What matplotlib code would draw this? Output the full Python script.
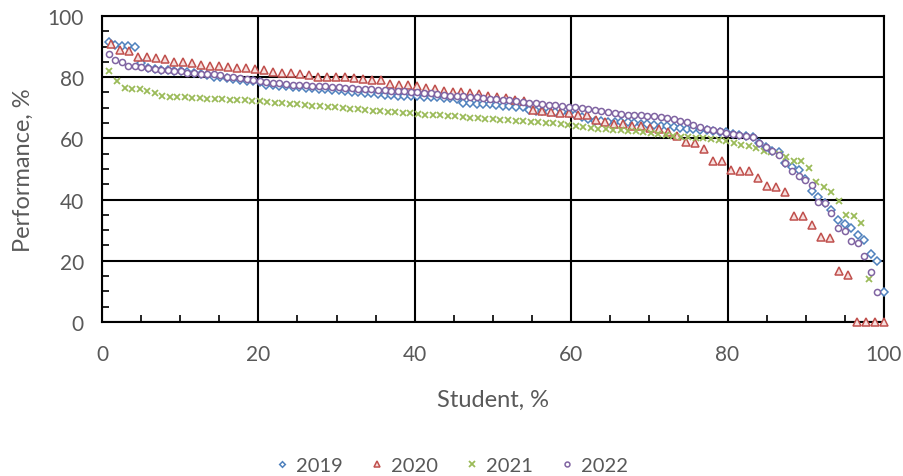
import numpy as np
import matplotlib
matplotlib.use("Agg")
import matplotlib.pyplot as plt
from matplotlib.ticker import MultipleLocator

plt.rcParams['font.family'] = ['Lato', 'DejaVu Sans']

# scores sorted high -> low, x is the student's rank as % of the cohort
years = ['2019', '2020', '2021', '2022']
cohort = {'2019': 119, '2020': 87, '2021': 104, '2022': 119}

perf_2019 = [91.4, 90.5, 90.3, 90.1, 89.8, 84.6, 82.9, 82.7, 82.5, 82.4,
             82.1, 81.9, 81.6, 81.3, 81.0, 80.8, 80.0, 79.9, 79.6, 79.4,
             79.0, 78.8, 78.6, 78.4, 77.5, 77.3, 77.2, 77.0, 76.9, 76.8,
             76.6, 76.5, 76.3, 76.1, 75.9, 75.7, 75.5, 75.3, 75.1, 74.9,
             74.7, 74.5, 74.3, 74.1, 74.0, 73.9, 73.8, 73.7, 73.6, 73.5,
             73.4, 73.3, 73.2, 73.0, 71.5, 71.4, 71.3, 71.2, 71.1, 71.0,
             70.7, 70.5, 70.3, 70.1, 69.2, 69.0, 68.8, 68.7, 68.6, 68.5,
             68.3, 67.6, 66.9, 66.3, 65.8, 65.6, 65.5, 65.4, 65.3, 65.2,
             65.0, 64.8, 64.6, 64.4, 64.2, 64.0, 63.6, 63.4, 63.2, 63.0,
             62.8, 62.6, 62.4, 62.2, 62.0, 61.5, 61.2, 60.8, 60.5, 58.6,
             57.3, 55.8, 55.4, 52.0, 50.5, 49.6, 46.7, 42.7, 41.0, 38.9,
             36.7, 33.4, 32.0, 30.6, 28.4, 26.9, 22.2, 20.0, 9.9]

perf_2020 = [90.8, 88.9, 88.7, 86.7, 86.5, 86.2, 85.9, 85.0, 84.9, 84.5,
             84.0, 83.8, 83.6, 83.2, 83.0, 83.0, 82.7, 82.4, 81.6, 81.4,
             81.3, 81.0, 80.7, 80.0, 80.0, 80.0, 80.0, 79.6, 79.4, 79.2,
             79.1, 77.8, 77.6, 77.4, 77.0, 76.4, 76.0, 75.6, 75.3, 75.2,
             74.8, 74.4, 74.0, 73.4, 73.1, 72.7, 72.1, 69.4, 69.0, 68.6,
             68.4, 68.3, 67.6, 67.5, 66.0, 65.2, 64.7, 64.7, 64.2, 64.2,
             63.3, 63.1, 62.0, 60.8, 58.9, 58.5, 56.5, 52.7, 52.5, 49.7,
             49.5, 49.5, 46.9, 44.3, 44.2, 42.6, 34.5, 34.5, 31.8, 27.7,
             27.5, 16.6, 15.4, 0, 0, 0, 0]

perf_2021 = [82.1, 78.9, 76.4, 76.1, 76.1, 75.6, 74.8, 73.7, 73.4, 73.4,
             73.4, 73.1, 73.1, 72.9, 72.9, 72.9, 72.7, 72.7, 72.4, 72.3,
             72.1, 71.9, 71.7, 71.5, 71.3, 71.1, 70.9, 70.7, 70.5, 70.3,
             70.1, 69.9, 69.7, 69.5, 69.3, 69.1, 68.9, 68.7, 68.6, 68.4,
             68.2, 68.0, 67.8, 67.7, 67.6, 67.4, 67.2, 67.0, 66.8, 66.6,
             66.4, 66.2, 66.0, 65.9, 65.8, 65.6, 65.5, 65.3, 65.1, 64.9,
             64.7, 64.4, 64.1, 63.8, 63.5, 63.2, 63.0, 62.8, 62.6, 62.5,
             62.3, 62.0, 61.7, 61.4, 61.0, 60.8, 60.6, 60.4, 60.2, 60.0,
             59.7, 59.4, 59.2, 58.5, 57.8, 57.4, 56.7, 56.0, 55.4, 54.9,
             53.8, 52.7, 52.7, 50.2, 45.9, 44.0, 42.6, 39.6, 35.0, 34.5,
             32.4, 14.1]

perf_2022 = [87.6, 85.7, 84.9, 83.8, 83.6, 83.2, 82.9, 82.7, 82.5, 82.2,
             82.0, 81.9, 81.5, 81.5, 81.2, 81.2, 80.9, 80.7, 80.2, 79.9,
             79.6, 79.4, 79.2, 78.6, 78.3, 78.1, 78.0, 77.8, 77.6, 77.5,
             77.4, 77.2, 77.1, 77.0, 76.8, 76.7, 76.5, 76.4, 76.2, 76.1,
             76.0, 75.9, 75.7, 75.6, 75.5, 75.4, 75.3, 75.1, 74.9, 74.7,
             74.5, 74.3, 74.0, 73.9, 73.7, 73.6, 73.4, 73.2, 73.0, 72.8,
             72.6, 72.4, 72.2, 72.0, 71.6, 71.4, 71.2, 71.0, 70.8, 70.6,
             70.3, 70.1, 69.9, 69.7, 69.4, 69.1, 68.6, 68.3, 68.0, 67.8,
             67.6, 67.5, 67.4, 67.2, 67.0, 66.6, 66.2, 65.6, 65.2, 64.3,
             63.8, 63.2, 62.8, 62.3, 61.6, 61.3, 61.0, 60.8, 60.6, 58.5,
             57.2, 55.8, 54.6, 51.8, 49.4, 47.6, 46.5, 44.8, 39.3, 38.9,
             35.6, 30.6, 29.8, 26.6, 25.8, 21.5, 16.4, 9.7]

perf = {'2019': perf_2019, '2020': perf_2020, '2021': perf_2021, '2022': perf_2022}

styles = {
    '2019': dict(marker='D', ms=3.6, mfc='white', mec='#4F81BD', mew=1.1),
    '2020': dict(marker='^', ms=5.2, mfc='#F6E0DF', mec='#C0504D', mew=1.1),
    '2021': dict(marker='x', ms=4.8, mec='#9BBB59', mew=1.3),
    '2022': dict(marker='o', ms=4.4, mfc='white', mec='#8064A2', mew=1.1),
}

grey = '#595959'

fig = plt.figure(figsize=(9.04, 4.77), dpi=100)
ax = fig.add_axes([0.1128, 0.3229, 0.865, 0.6415])

for yr in years:
    y = np.array(perf[yr])
    x = 100 * np.arange(1, len(y) + 1) / cohort[yr]
    ax.plot(x, y, linestyle='none', label=yr, clip_on=False, zorder=3, **styles[yr])

ax.set_xlim(0, 100)
ax.set_ylim(0, 100)
ax.xaxis.set_major_locator(MultipleLocator(20))
ax.yaxis.set_major_locator(MultipleLocator(20))
ax.xaxis.set_minor_locator(MultipleLocator(5))
ax.yaxis.set_minor_locator(MultipleLocator(5))
ax.grid(True, which='major', color='black', linewidth=1.5)
ax.set_axisbelow(True)

for s in ax.spines.values():
    s.set_color('black')
    s.set_linewidth(1.5)

ax.tick_params(which='major', direction='in', length=0, labelsize=15, labelcolor=grey)
ax.tick_params(axis='x', which='major', pad=16)
ax.tick_params(axis='y', which='major', pad=13)
ax.tick_params(which='minor', direction='in', length=5, width=1.2, color='black')
ax.tick_params(axis='y', which='minor', right=False)
ax.tick_params(axis='x', which='minor', top=False)

ax.set_xlabel('Student, %', fontsize=17, color=grey, labelpad=18)
ax.set_ylabel('Performance, %', fontsize=17, color=grey, labelpad=10)

fig.legend(loc='center', bbox_to_anchor=(0.5, 1 - 466 / 477), ncol=4, frameon=False,
           fontsize=14.5, labelcolor=grey, handlelength=0.6, handletextpad=0.4,
           columnspacing=1.4, markerscale=0.8)

fig.savefig('out.png', dpi=100)
